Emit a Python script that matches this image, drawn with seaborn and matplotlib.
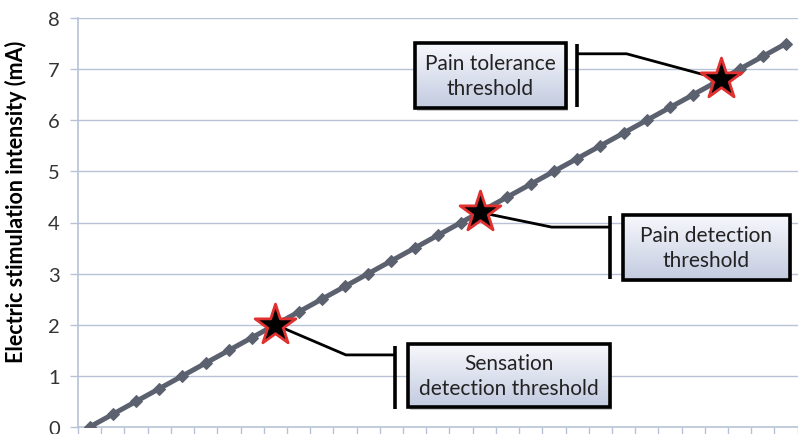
import numpy as np
import pandas as pd
import matplotlib
matplotlib.use("Agg")
import matplotlib.pyplot as plt
import seaborn as sns
from matplotlib.patches import Rectangle
from matplotlib.colors import LinearSegmentedColormap

# ---- data ----
step_index = list(range(31))
intensity = [0.0, 0.25, 0.5, 0.75, 1.0, 1.25, 1.5, 1.75, 2.0, 2.25, 2.5, 2.75, 3.0,
             3.25, 3.5, 3.75, 4.0, 4.25, 4.5, 4.75, 5.0, 5.25, 5.5, 5.75, 6.0,
             6.25, 6.5, 6.75, 7.0, 7.25, 7.5]
threshold_labels = ["Sensation\ndetection threshold", "Pain detection\nthreshold",
                    "Pain tolerance\nthreshold"]
threshold_values = [2.0, 4.2, 6.8]
threshold_steps = [8.0, 16.8, 27.2]
y_ticks = [0, 1, 2, 3, 4, 5, 6, 7, 8]

sns.set_theme(style="white")
plt.rcParams['font.family'] = ['Lato', 'DejaVu Sans']

fig = plt.figure(figsize=(7.98, 4.35), dpi=100)
W, H = 798, 435
ax = fig.add_axes([78 / W, 7 / H, 722 / W, 409 / H])

grid_c = "#b8c2d6"
line_c = "#5c6170"

df = pd.DataFrame({"step": step_index, "mA": intensity})
sns.lineplot(data=df, x="step", y="mA", ax=ax, color=line_c, lw=3.6, marker="D",
             markersize=6, markeredgecolor=line_c, zorder=3)
tdf = pd.DataFrame({"step": threshold_steps, "mA": threshold_values})
sns.scatterplot(data=tdf, x="step", y="mA", ax=ax, marker="*", s=950,
                color="black", edgecolor="#e03030", linewidth=2.0, zorder=5)

ax.set_xlim(-0.5, 30.6)
ax.set_ylim(0, 8)
ax.set_yticks(y_ticks)
ax.set_yticklabels([str(v) for v in y_ticks], fontsize=14.5, color="#333333")
ax.set_xticks(np.arange(-0.5, 31, 1))
ax.set_xticklabels([])
ax.tick_params(axis="x", bottom=True, direction="out", length=6, color=grid_c, width=1)
ax.tick_params(axis="y", left=True, direction="out", length=6, color=grid_c, width=1, pad=7)
for y in y_ticks[1:]:
    ax.axhline(y, color=grid_c, lw=1.0, zorder=0)
for s in ["top", "right"]:
    ax.spines[s].set_visible(False)
for s in ["left", "bottom"]:
    ax.spines[s].set_color(grid_c)
    ax.spines[s].set_linewidth(1.2)
ax.set_xlabel("")
ax.set_ylabel("Electric stimulation intensity (mA)", fontsize=15.5, fontweight="bold",
              color="black")
ax.yaxis.set_label_coords(-0.071, 0.553)

# annotation geometry (data coords): elbow, bar x, bar y-range, box
annots = [
    dict(elbow=(11.04, 1.41), bar_x=13.15, bar_y=(0.35, 1.59), box=(13.7, 0.39, 8.7, 1.23)),
    dict(elbow=(19.9, 3.91), bar_x=22.4, bar_y=(2.90, 4.13), box=(22.96, 2.88, 7.19, 1.27)),
    dict(elbow=(23.13, 7.30), bar_x=21.0, bar_y=(6.26, 7.50), box=(14.0, 6.24, 6.5, 1.27)),
]
grad = np.linspace(0, 1, 100).reshape(-1, 1)
cmap = LinearSegmentedColormap.from_list("g", ["#c3cbe0", "#f7f8fc"])
for lab, sx, sy, a in zip(threshold_labels, threshold_steps, threshold_values, annots):
    ex, ey = a["elbow"]
    ax.plot([sx, ex, a["bar_x"]], [sy, ey, ey], color="black", lw=2.0, zorder=4,
            solid_capstyle="butt")
    ax.plot([a["bar_x"], a["bar_x"]], a["bar_y"], color="black", lw=2.6, zorder=4,
            solid_capstyle="butt")
    bx, by, bw, bh = a["box"]
    shadow = Rectangle((bx + 0.12, by - 0.05), bw, bh, facecolor="#999999", alpha=0.5,
                       edgecolor="none", zorder=5)
    ax.add_patch(shadow)
    im = ax.imshow(grad, extent=(bx, bx + bw, by, by + bh), cmap=cmap, origin="lower",
                   aspect="auto", zorder=6)
    rect = Rectangle((bx, by), bw, bh, facecolor="none", edgecolor="black", lw=2.6,
                     zorder=7)
    ax.add_patch(rect)
    im.set_clip_path(rect)
    ax.text(bx + bw / 2, by + bh / 2, lab, ha="center", va="center", fontsize=15,
            color="#222222", linespacing=1.3, zorder=8)

ax.set_xlim(-0.5, 30.6)
ax.set_ylim(0, 8)
fig.savefig("out.png", dpi=100)
